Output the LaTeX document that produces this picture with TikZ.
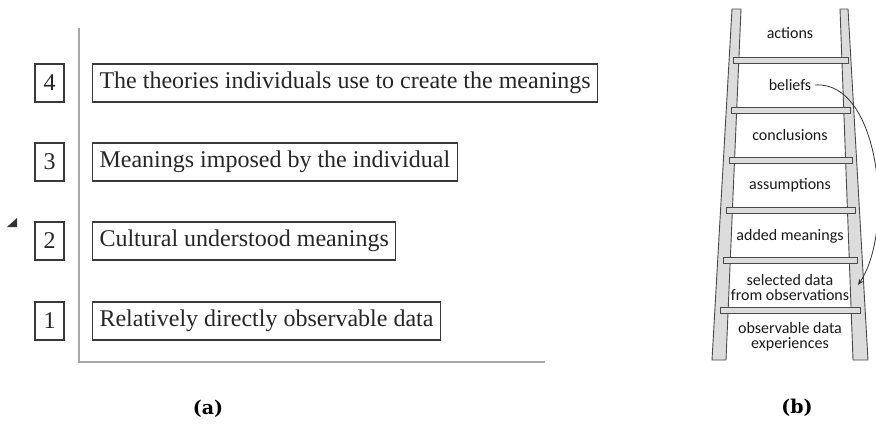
\documentclass[tikz,border=0pt]{standalone}
\usepackage{fontspec}
\setmainfont{Liberation Serif}
\newfontfamily\ladderfont{Carlito}
\newfontfamily\captionfont{DejaVu Serif}
\usetikzlibrary{arrows.meta}
\definecolor{railfill}{HTML}{DCDCDC}
\definecolor{railedge}{HTML}{4A4A4A}
\definecolor{axisgray}{HTML}{A8A8A8}
\definecolor{boxedge}{HTML}{3A3A3A}
\begin{document}
\begin{tikzpicture}[x=1pt,y=-1pt,
  numbox/.style={draw=boxedge,line width=1.1pt,minimum width=29pt,minimum height=38pt,inner sep=0pt,font=\fontsize{24}{26}\selectfont,text=black!85},
  levelbox/.style={draw=boxedge,line width=1.1pt,minimum height=38pt,inner xsep=7pt,inner ysep=0pt,anchor=west,font=\fontsize{24}{26}\selectfont,text=black!85},
  rail/.style={fill=railfill,draw=railedge,line width=0.9pt},
  rung/.style={fill=railfill,draw=railedge,line width=0.9pt},
  steptext/.style={font=\ladderfont\fontsize{16}{18}\selectfont,text=black!90,align=center},
  caption/.style={font=\captionfont\bfseries\fontsize{19}{21}\selectfont}]
\useasboundingbox (0,0) rectangle (876,424);

% left panel: axes
\draw[axisgray,line width=1.2pt] (79,28) -- (79,362) -- (545,362);
\fill[black!80] (7,227) -- (17,227) -- (17,218) -- cycle;

% numbered levels
\node[numbox] (n4) at (49.5,83) {4};
\node[numbox] (n3) at (49.5,162) {3};
\node[numbox] (n2) at (49.5,241) {2};
\node[numbox] (n1) at (49.5,321) {1};
\node[levelbox] (l4) at (92,83) {The theories individuals use to create the meanings};
\node[levelbox] (l3) at (92,162) {Meanings imposed by the individual};
\node[levelbox] (l2) at (92,241) {Cultural understood meanings};
\node[levelbox] (l1) at (92,321) {Relatively directly observable data};

\node[caption] (capa) at (208,409) {(a)};

% ladder rails
\draw[rail] (732,9) -- (741,9) -- (726,360) -- (712,360) -- cycle;
\draw[rail] (840,9) -- (848,9) -- (868,360) -- (853,360) -- cycle;
% ladder rungs
\draw[rung] (733,57) rectangle (848,63);
\draw[rung] (731,107) rectangle (850,113);
\draw[rung] (729,157) rectangle (852,163);
\draw[rung] (726,207) rectangle (855,213);
\draw[rung] (723,257) rectangle (857,263);
\draw[rung] (720,307) rectangle (860,313);

% rung labels
\node[steptext] (s7) at (790,33) {actions};
\node[steptext] (s6) at (790,85) {beliefs};
\node[steptext] (s5) at (790,135) {conclusions};
\node[steptext] (s4) at (790,185) {assumptions};
\node[steptext] (s3) at (790,236) {added meanings};
\node[steptext] (s2) at (790,287) {selected data\\[-3pt]from observations};
\node[steptext] (s1) at (790,337) {observable data\\[-3pt]experiences};

% reflexive loop from beliefs back to selected data
\coordinate (loopend) at (858,285);
\draw[black!80,line width=0.8pt,-{Stealth[length=6pt,width=5pt]}]
  (s6.east) .. controls (880,80) and (895,230) .. (loopend);

\node[caption] (capb) at (797,408) {(b)};
\end{tikzpicture}
\end{document}
